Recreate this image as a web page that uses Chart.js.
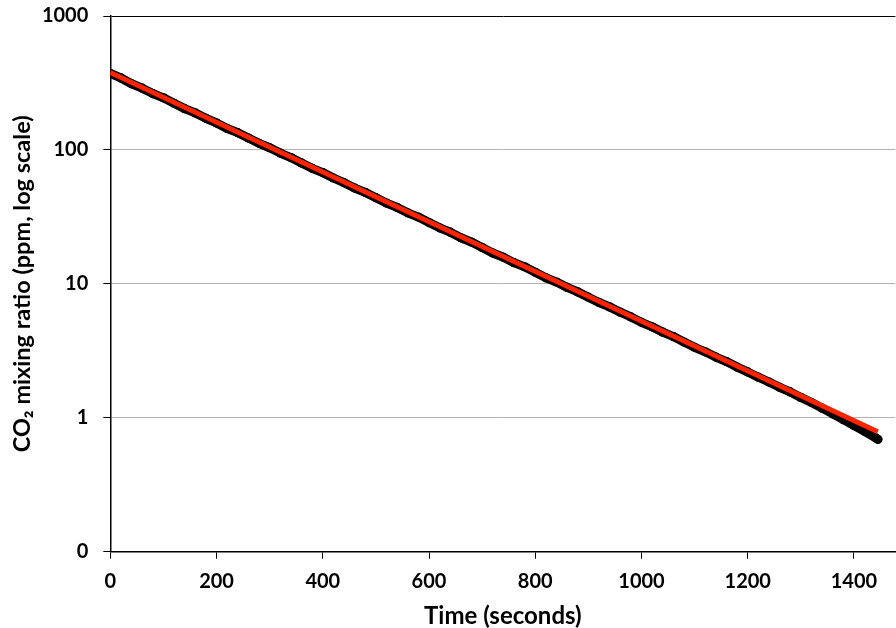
<!DOCTYPE html>
<html><head><meta charset="utf-8">
<script src="https://cdn.jsdelivr.net/npm/chart.js@4.4.1/dist/chart.umd.min.js"></script>
<style>html,body{margin:0;padding:0;background:#fff;overflow:hidden;width:896px;height:628px}canvas{display:block}</style>
</head><body>
<canvas id="c" width="900" height="628"></canvas>
<script>
const timeSeconds = [0,20,40,60,80,100,120,140,160,180,200,220,240,260,280,300,320,340,360,380,400,420,440,460,480,500,520,540,560,580,600,620,640,660,680,700,720,740,760,780,800,820,840,860,880,900,920,940,960,980,1000,1020,1040,1060,1080,1100,1120,1140,1160,1180,1200,1220,1240,1260,1280,1300,1320,1340,1360,1380,1400,1420,1440,1445];
const co2Measured = [372,344.7,312.1,289.1,263.6,244.8,223.2,203.4,188.9,172.2,158.9,144.5,134.5,122.7,112.1,103.8,94.7,87.7,80.0,72.9,67.7,61.7,56.9,51.9,48.2,44.0,40.1,37.2,33.9,31.5,28.7,26.2,24.3,22.1,20.5,18.7,17.0,15.8,14.4,13.4,12.2,11.1,10.31,9.41,8.71,7.95,7.26,6.73,6.14,5.66,5.16,4.78,4.36,4.04,3.68,3.36,3.11,2.84,2.63,2.39,2.20,2.01,1.85,1.69,1.56,1.42,1.30,1.18,1.07,0.968,0.876,0.792,0.712,0.690];
const fitTime = [0, 1445];
const co2Fit = [379, 0.785];
const xTickValues = [0,200,400,600,800,1000,1200,1400];
const yTickValues = [0.1,1,10,100,1000];
const yTickLabels = ['0','1','10','100','1000'];
const xAxisTitle = 'Time (seconds)';
const yAxisTitle = 'CO\u2082 mixing ratio (ppm, log scale)';

const FONT = 'Lato, "Open Sans", sans-serif';
const measured = timeSeconds.map((t, i) => ({x: t, y: co2Measured[i]}));
const fit = fitTime.map((t, i) => ({x: t, y: co2Fit[i]}));

new Chart(document.getElementById('c'), {
  type: 'scatter',
  data: {
    datasets: [
      {label: 'fit', data: fit, showLine: true, borderColor: '#ff2400', borderWidth: 5, pointRadius: 0, order: 0, borderCapStyle: 'butt'},
      {label: 'measured', data: measured, showLine: true, borderColor: '#000', borderWidth: 9, pointRadius: 4.6, pointBackgroundColor: '#000', pointBorderWidth: 0, borderJoinStyle: 'round', borderCapStyle: 'round', order: 1}
    ]
  },
  options: {
    responsive: false,
    animation: false,
    devicePixelRatio: 1,
    layout: {padding: {top: 16, left: 0, right: 0, bottom: 0}},
    plugins: {legend: {display: false}, tooltip: {enabled: false}},
    scales: {
      x: {
        type: 'linear', position: 'bottom', min: 0, max: 1478,
        afterBuildTicks: s => { s.ticks = xTickValues.map(v => ({value: v})); },
        afterFit: s => { s.height = 76.3; s.paddingLeft = 0; s.paddingRight = 0; },
        grid: {drawOnChartArea: false, color: '#000', tickColor: '#000', tickLength: 7, lineWidth: 1},
        border: {color: '#000', width: 1.5},
        ticks: {color: '#000', font: {family: FONT, size: 20, weight: 'bold'}, padding: 11, maxRotation: 0, autoSkip: false, callback: v => String(v)},
        title: {display: true, text: xAxisTitle, color: '#000', font: {family: FONT, size: 24, weight: 'bold'}, padding: {top: 0, bottom: -3}}
      },
      y: {
        type: 'logarithmic', position: 'left', min: 0.1, max: 1000,
        afterBuildTicks: s => { s.ticks = yTickValues.map(v => ({value: v})); },
        afterFit: s => { s.width = 110.3; s.paddingTop = 0; s.paddingBottom = 0; },
        grid: {color: c => (c.tick && (c.tick.value === 1000 || c.tick.value === 0.1)) ? '#000' : '#b3b3b3', tickColor: '#000', tickLength: 7, lineWidth: 1},
        border: {color: '#000', width: 1.5},
        ticks: {color: '#000', font: {family: FONT, size: 20, weight: 'bold'}, padding: 15, autoSkip: false, callback: (v, i) => yTickLabels[i]},
        title: {display: true, text: yAxisTitle, color: '#000', font: {family: FONT, size: 23.5, weight: 'bold'}, padding: {top: 8, bottom: 0}}
      }
    }
  }
});
</script>
</body></html>
